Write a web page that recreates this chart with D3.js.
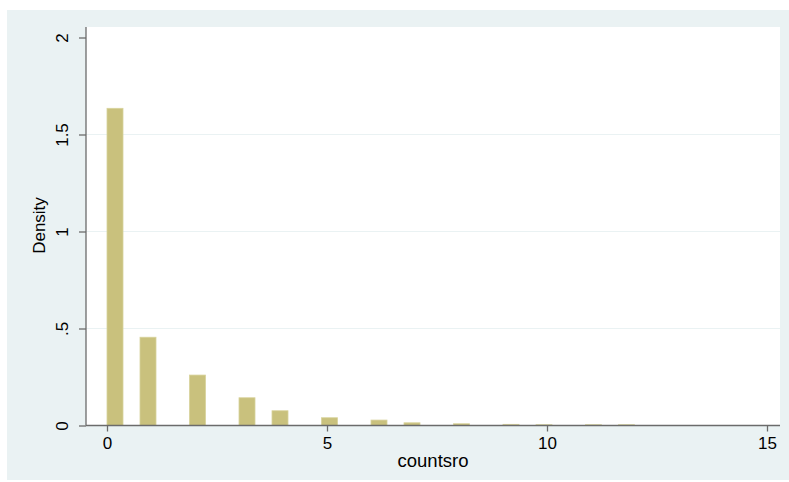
<!DOCTYPE html>
<html><head><meta charset="utf-8">
<script src="https://cdn.jsdelivr.net/npm/d3@7"></script>
<style>body{margin:0;background:#fff}svg{display:block}text{font-family:"Liberation Sans",Arial,sans-serif;fill:#000}</style>
</head><body>
<script>
const binStarts = [0, 0.75, 1.875, 3, 3.75, 4.875, 6, 6.75, 7.875, 9, 9.75, 10.875, 11.625];
const densities = [1.635, 0.455, 0.26, 0.143, 0.076, 0.040, 0.028, 0.014, 0.009, 0.006, 0.004, 0.004, 0.004];
const binWidth = 0.375;
const xTicks = [0, 5, 10, 15];
const yTicks = [0, 0.5, 1, 1.5, 2];
const yTickLabels = ["0", ".5", "1", "1.5", "2"];
const xTitle = "countsro", yTitle = "Density";

const W = 789, H = 482;
const svg = d3.select("body").append("svg").attr("width", W).attr("height", H);
svg.append("rect").attr("x", 7).attr("y", 10).attr("width", W - 7).attr("height", 470).attr("fill", "#eaf2f3");
const pl = 86, pr = 780, pt = 27, pb = 425.5;
svg.append("rect").attr("x", pl).attr("y", pt).attr("width", pr - pl).attr("height", pb - pt).attr("fill", "#fff");

const x = d3.scaleLinear().domain([0, 15]).range([107, 767]);
const y = d3.scaleLinear().domain([0, 2]).range([pb, 37.5]);

// gridlines
svg.append("g").selectAll("line").data(yTicks.filter(d => d > 0 && d < 2)).join("line")
  .attr("x1", pl).attr("x2", pr).attr("y1", d => y(d)).attr("y2", d => y(d))
  .attr("stroke", "#eaf2f3").attr("stroke-width", 1.2);

// bars
svg.append("g").selectAll("rect").data(binStarts.map((s, i) => ({s, v: densities[i]}))).join("rect")
  .attr("x", d => x(d.s)).attr("width", d => x(d.s + binWidth) - x(d.s) - 0.5)
  .attr("y", d => y(d.v)).attr("height", d => pb - y(d.v))
  .attr("fill", "#c9c17d").attr("stroke", "#d8d39c").attr("stroke-width", 0.8);

// axes
const xAxis = d3.axisBottom(x).tickValues(xTicks).tickSize(6).tickFormat(d3.format("d"));
const gx = svg.append("g").attr("transform", `translate(0,${pb})`).call(xAxis);
gx.select(".domain").attr("d", `M${pl},0H${pr}`);
const yAxis = d3.axisLeft(y).tickValues(yTicks).tickSize(7).tickFormat((d, i) => yTickLabels[i]);
const gy = svg.append("g").attr("transform", `translate(${pl},0)`).call(yAxis);
gy.select(".domain").attr("d", `M0,${pb}V${pt}`);
[gx, gy].forEach(g => {
  g.selectAll(".domain").attr("stroke", "#6b6b6b").attr("stroke-width", 1.3);
  g.selectAll(".tick line").attr("stroke", "#6b6b6b").attr("stroke-width", 1.3);
  g.selectAll("text").attr("font-size", 17).attr("font-family", "Liberation Sans, Arial, sans-serif").attr("fill", "#000");
});
gx.selectAll(".tick text").attr("y", 23.5).attr("dy", 0);
gy.selectAll(".tick text").attr("x", 0).attr("text-anchor", "middle")
  .attr("transform", "translate(-24,0) rotate(-90)").attr("dy", "0.35em");

svg.append("text").attr("x", 433).attr("y", 466.5).attr("text-anchor", "middle").attr("font-size", 18.5).text(xTitle);
svg.append("text").attr("transform", "translate(45,225.5) rotate(-90)").attr("text-anchor", "middle").attr("font-size", 17).text(yTitle);
</script>
</body></html>
